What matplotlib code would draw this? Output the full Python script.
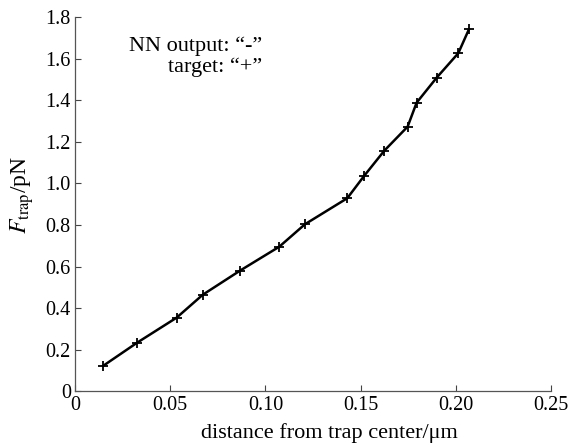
import matplotlib
matplotlib.use("Agg")
import matplotlib.pyplot as plt

# values
dist = [0.0149, 0.0327, 0.0534, 0.0671, 0.0867, 0.1073, 0.1208, 0.1430,
        0.1520, 0.1625, 0.1747, 0.1794, 0.1900, 0.2013, 0.2069]
force = [0.124, 0.235, 0.355, 0.465, 0.581, 0.696, 0.804, 0.929,
         1.038, 1.158, 1.273, 1.388, 1.509, 1.626, 1.741]

xticks = [0, 0.05, 0.10, 0.15, 0.20, 0.25]
xtick_labels = ["0", "0.05", "0.10", "0.15", "0.20", "0.25"]
yticks = [0, 0.2, 0.4, 0.6, 0.8, 1.0, 1.2, 1.4, 1.6, 1.8]
ytick_labels = ["0", "0.2", "0.4", "0.6", "0.8", "1.0", "1.2", "1.4", "1.6", "1.8"]

plt.rcParams["font.family"] = "Liberation Serif"
plt.rcParams["mathtext.fontset"] = "stix"

fig = plt.figure(figsize=(5.75, 4.46), dpi=100)
ax = fig.add_axes([0.1304, 0.1222, 0.8279, 0.8397])

ax.plot(dist, force, color="black", lw=1.8, marker="+", ms=7, mew=1.3)

ax.set_xlim(0, 0.25)
ax.set_ylim(0, 1.8)
ax.set_xticks(xticks)
ax.set_xticklabels(xtick_labels)
ax.set_yticks(yticks)
ax.set_yticklabels(ytick_labels)
ax.tick_params(direction="in", length=4, width=0.8, labelsize=14.5, pad=3,
               color="#444444")
for side in ["top", "right"]:
    ax.spines[side].set_visible(False)
for side in ["left", "bottom"]:
    ax.spines[side].set_color("#555555")
    ax.spines[side].set_linewidth(0.9)

ax.set_xlabel("distance from trap center/\u03bcm", fontsize=16, labelpad=6)
ax.xaxis.set_label_coords(0.534, -0.085)
ax.set_ylabel(r"$F_{\rm trap}$/pN", fontsize=17)
ax.yaxis.set_label_coords(-0.082, 0.525)

ax.text(0.393, 0.921, "NN output: \u201c-\u201d", transform=ax.transAxes,
        ha="right", va="center", fontsize=16)
ax.text(0.393, 0.866, "target: \u201c+\u201d", transform=ax.transAxes,
        ha="right", va="center", fontsize=16)

fig.savefig("out.png", dpi=100)
